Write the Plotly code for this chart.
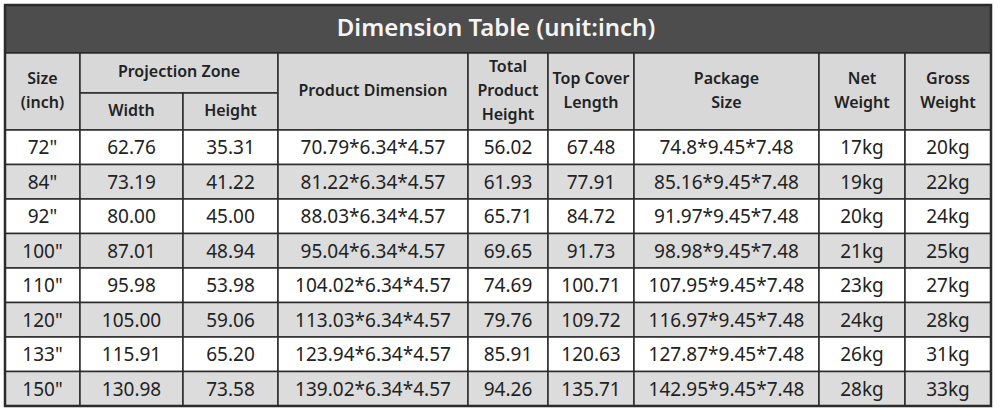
import plotly.graph_objects as go

# table data
sizes = ['72"', '84"', '92"', '100"', '110"', '120"', '133"', '150"']
proj_width = ["62.76", "73.19", "80.00", "87.01", "95.98", "105.00", "115.91", "130.98"]
proj_height = ["35.31", "41.22", "45.00", "48.94", "53.98", "59.06", "65.20", "73.58"]
product_dim = ["70.79*6.34*4.57", "81.22*6.34*4.57", "88.03*6.34*4.57", "95.04*6.34*4.57",
               "104.02*6.34*4.57", "113.03*6.34*4.57", "123.94*6.34*4.57", "139.02*6.34*4.57"]
total_height = ["56.02", "61.93", "65.71", "69.65", "74.69", "79.76", "85.91", "94.26"]
top_cover = ["67.48", "77.91", "84.72", "91.73", "100.71", "109.72", "120.63", "135.71"]
package_size = ["74.8*9.45*7.48", "85.16*9.45*7.48", "91.97*9.45*7.48", "98.98*9.45*7.48",
                "107.95*9.45*7.48", "116.97*9.45*7.48", "127.87*9.45*7.48", "142.95*9.45*7.48"]
net_weight = ["17kg", "19kg", "20kg", "21kg", "23kg", "24kg", "26kg", "28kg"]
gross_weight = ["20kg", "22kg", "24kg", "25kg", "27kg", "28kg", "31kg", "33kg"]

title = "Dimension Table (unit:inch)"
# (label lines, first col, last col, top header row, bottom header row)
headers = [
    (["Size", "(inch)"], 0, 0, 0, 1),
    (["Projection Zone"], 1, 2, 0, 0),
    (["Width"], 1, 1, 1, 1),
    (["Height"], 2, 2, 1, 1),
    (["Product Dimension"], 3, 3, 0, 1),
    (["Total", "Product", "Height"], 4, 4, 0, 1),
    (["Top Cover", "Length"], 5, 5, 0, 1),
    (["Package", "Size"], 6, 6, 0, 1),
    (["Net", "Weight"], 7, 7, 0, 1),
    (["Gross", "Weight"], 8, 8, 0, 1),
]

columns = [sizes, proj_width, proj_height, product_dim, total_height,
           top_cover, package_size, net_weight, gross_weight]

# geometry (pixels)
col_edges = [5, 80, 183, 278, 468, 548, 634, 819, 905, 991]
title_top, title_bot = 5, 53
head_edges = [53, 93, 130]
body_top, body_bot = 130, 406
n_rows = len(sizes)
row_h = (body_bot - body_top) / n_rows
row_edges = [body_top + i * row_h for i in range(n_rows + 1)]

LINE = "#2b2b2b"
HEAD_BG = "#d8d8d8"
GRAY_BG = "#dcdcdc"
TEXT = "#222222"
FONT = "Noto Sans"

fig = go.Figure()
shapes = []

# title band
shapes.append(dict(type="rect", layer="below", x0=col_edges[0], x1=col_edges[-1],
                   y0=title_top, y1=title_bot,
                   fillcolor="#4d4d4d", line=dict(color=LINE, width=2)))

# header cells
for lines, c0, c1, r0, r1 in headers:
    shapes.append(dict(type="rect", layer="below", x0=col_edges[c0], x1=col_edges[c1 + 1],
                       y0=head_edges[r0], y1=head_edges[r1 + 1],
                       fillcolor=HEAD_BG, line=dict(color=LINE, width=1.5)))

# body cells
for r in range(n_rows):
    bg = "#ffffff" if r % 2 == 0 else GRAY_BG
    for c in range(len(columns)):
        shapes.append(dict(type="rect", layer="below", x0=col_edges[c], x1=col_edges[c + 1],
                           y0=row_edges[r], y1=row_edges[r + 1],
                           fillcolor=bg, line=dict(color=LINE, width=1.5)))

# outer border
shapes.append(dict(type="rect", layer="below", x0=col_edges[0], x1=col_edges[-1],
                   y0=title_top, y1=body_bot,
                   fillcolor="rgba(0,0,0,0)", line=dict(color=LINE, width=2.5)))

fig.update_layout(shapes=shapes)

# title text
fig.add_trace(go.Scatter(
    x=[(col_edges[0] + col_edges[-1]) / 2 - 2], y=[(title_top + title_bot) / 2 + 1],
    mode="text", text=[title],
    textfont=dict(family=FONT, size=24, color="#f4f4f4", weight=600),
    hoverinfo="skip"))

# header text, one line at a time for tighter control of spacing
line_gap = 24
hx, hy, ht = [], [], []
for lines, c0, c1, r0, r1 in headers:
    cx = (col_edges[c0] + col_edges[c1 + 1]) / 2
    cy = (head_edges[r0] + head_edges[r1 + 1]) / 2
    n = len(lines)
    for i, t in enumerate(lines):
        hx.append(cx)
        hy.append(cy + (i - (n - 1) / 2) * line_gap)
        ht.append(t)
fig.add_trace(go.Scatter(
    x=hx, y=hy, mode="text", text=ht,
    textfont=dict(family=FONT, size=16, color=TEXT, weight=600),
    hoverinfo="skip"))

# body text
for c, col in enumerate(columns):
    cx = (col_edges[c] + col_edges[c + 1]) / 2
    fig.add_trace(go.Scatter(
        x=[cx] * n_rows,
        y=[(row_edges[r] + row_edges[r + 1]) / 2 + 2 for r in range(n_rows)],
        mode="text", text=col,
        textfont=dict(family=FONT, size=19, color=TEXT),
        hoverinfo="skip"))

fig.update_xaxes(range=[0, 1000], visible=False, fixedrange=True)
fig.update_yaxes(range=[410, 0], visible=False, fixedrange=True)
fig.update_layout(
    width=1000, height=410,
    margin=dict(l=0, r=0, t=0, b=0),
    paper_bgcolor="white", plot_bgcolor="white",
    showlegend=False,
)

fig.write_html("out.html", config={"displayModeBar": False},
               post_script="document.body.style.margin='0';document.body.style.overflow='hidden';")
